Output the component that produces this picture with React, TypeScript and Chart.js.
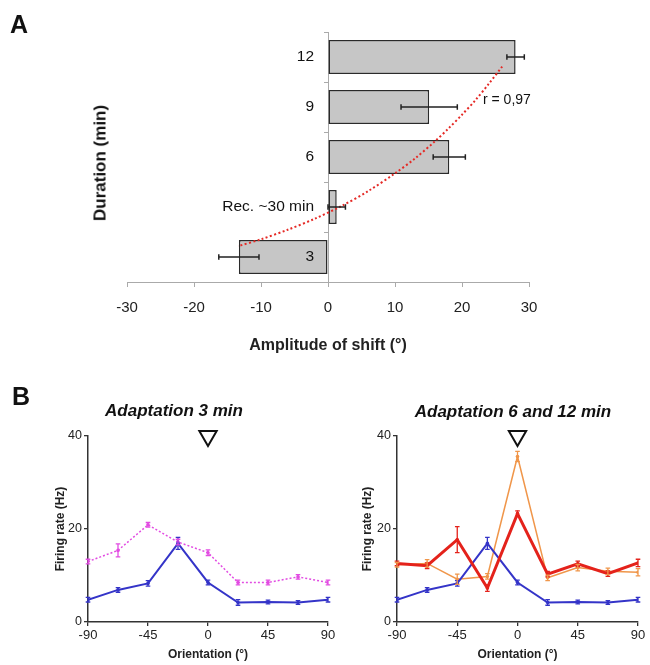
import { useEffect, useRef } from 'react';
import { Chart, registerables } from 'chart.js';

Chart.register(...registerables);

const FONT = 'Arial, "Liberation Sans", sans-serif';

// ---------- Panel A data ----------
const durationLabels = ['12', '9', '6', 'Rec. ~30 min', '3'];
const shiftValues = [28.0, 15.1, 18.1, 1.3, -13.3];
const shiftErrors = [1.3, 4.2, 2.4, 1.3, 3.0];
const shiftTicks = [-30, -20, -10, 0, 10, 20, 30];
// dotted red fit curve (shift, category position from top)
const fitShift = [26.0, 24.0, 22.0, 20.0, 18.0, 16.0, 13.0, 10.0, 6.0, 2.0, -2.0, -6.0, -10.0, -13.4];
const fitRank = [0.01, 0.39, 0.75, 1.07, 1.37, 1.65, 2.03, 2.36, 2.75, 3.08, 3.36, 3.6, 3.81, 3.96];

// ---------- Panel B data ----------
const orientations = [-90, -67.5, -45, -22.5, 0, 22.5, 45, 67.5, 90];
const orientationTicks = [-90, -45, 0, 45, 90];
const rateTicks = [0, 20, 40];
const controlRate = [4.8, 6.9, 8.3, 16.9, 8.5, 4.2, 4.3, 4.2, 4.8];
const controlErr = [0.5, 0.5, 0.6, 1.3, 0.5, 0.6, 0.4, 0.4, 0.5];
const adapt3Rate = [13.0, 15.4, 20.9, 17.2, 14.9, 8.5, 8.5, 9.7, 8.5];
const adapt3Err = [0.5, 1.4, 0.5, 0.6, 0.6, 0.5, 0.5, 0.5, 0.5];
const adaptRedRate = [12.6, 12.1, 17.7, 7.3, 23.3, 10.3, 12.5, 10.4, 12.7];
const adaptRedErr = [0.5, 0.6, 2.8, 0.7, 0.6, 0.6, 0.6, 0.6, 0.8];
const adaptOrangeRate = [12.3, 12.6, 9.2, 9.8, 35.6, 9.5, 11.7, 10.9, 10.7];
const adaptOrangeErr = [0.5, 0.8, 1.1, 0.6, 1.1, 0.6, 0.7, 0.7, 0.8];
const adaptedOrientation = [0];
const markerRate = [40];

const errorBarPlugin = {
  id: 'errorBars',
  afterDatasetsDraw(chart: any) {
    const ctx = chart.ctx;
    chart.data.datasets.forEach((ds: any, di: number) => {
      const errs: number[] | undefined = ds.errorBars;
      if (!errs) return;
      const meta = chart.getDatasetMeta(di);
      if (meta.hidden) return;
      const xs = chart.scales[meta.xAxisID];
      const ys = chart.scales[meta.yAxisID];
      const horizontal = !!ds.errorHorizontal;
      const cap = ds.errorCap ?? 2.5;
      ctx.save();
      ctx.strokeStyle = ds.errorColor || ds.borderColor;
      ctx.lineWidth = ds.errorWidth ?? 1.2;
      meta.data.forEach((el: any, i: number) => {
        const p = meta.controller.getParsed(i);
        const e = errs[i];
        ctx.beginPath();
        if (horizontal) {
          const a = xs.getPixelForValue(p.x - e);
          const b = xs.getPixelForValue(p.x + e);
          const y = el.y;
          ctx.moveTo(a, y); ctx.lineTo(b, y);
          ctx.moveTo(a, y - cap); ctx.lineTo(a, y + cap);
          ctx.moveTo(b, y - cap); ctx.lineTo(b, y + cap);
        } else {
          const a = ys.getPixelForValue(p.y - e);
          const b = ys.getPixelForValue(p.y + e);
          const x = el.x;
          ctx.moveTo(x, a); ctx.lineTo(x, b);
          ctx.moveTo(x - cap, a); ctx.lineTo(x + cap, a);
          ctx.moveTo(x - cap, b); ctx.lineTo(x + cap, b);
        }
        ctx.stroke();
      });
      ctx.restore();
    });
  },
};

function pts(vals: number[]) {
  return orientations.map((x, i) => ({ x, y: vals[i] }));
}

function lineDs(label: string, vals: number[], errs: number[], color: string, width: number, dash: number[] = [], order = 0) {
  return {
    type: 'line',
    label,
    data: pts(vals),
    borderColor: color,
    backgroundColor: color,
    borderWidth: width,
    borderDash: dash,
    pointRadius: 1.8,
    pointBorderWidth: 0,
    pointBackgroundColor: color,
    tension: 0,
    errorBars: errs,
    errorWidth: 1.3,
    errorCap: 2.3,
    order,
  };
}

function markerDs() {
  return {
    type: 'scatter',
    label: 'adapted orientation',
    data: adaptedOrientation.map((x, i) => ({ x, y: markerRate[i] })),
    pointStyle: 'triangle',
    rotation: 180,
    pointRadius: 10,
    borderColor: '#111',
    backgroundColor: 'rgba(0,0,0,0)',
    borderWidth: 2,
    clip: false,
    order: -1,
  };
}

function panelBOptions(yWidth: number, yTitlePad: number, rightPad: number) {
  return {
    responsive: false,
    maintainAspectRatio: false,
    animation: false,
    layout: { padding: { left: 0, right: rightPad, top: 56, bottom: 0 } },
    plugins: { legend: { display: false }, tooltip: { enabled: false } },
    scales: {
      x: {
        type: 'linear',
        min: -90,
        max: 90,
        afterBuildTicks: (s: any) => { s.ticks = orientationTicks.map((v) => ({ value: v })); },
        ticks: { font: { family: FONT, size: 13 }, color: '#222', padding: 2, maxRotation: 0 },
        grid: { display: true, drawOnChartArea: false, drawTicks: true, tickLength: 4, color: '#333', lineWidth: 1.3 },
        border: { display: true, color: '#333', width: 1.5 },
        title: { display: true, text: 'Orientation (°)', font: { family: FONT, size: 12, weight: 'bold' }, color: '#222', padding: { top: 0, bottom: 3 } },
        afterFit: (s: any) => { s.height = 43; },
      },
      y: {
        type: 'linear',
        min: 0,
        max: 40,
        afterBuildTicks: (s: any) => { s.ticks = rateTicks.map((v) => ({ value: v })); },
        ticks: { font: { family: FONT, size: 12.5 }, color: '#222', padding: 2 },
        grid: { display: true, drawOnChartArea: false, drawTicks: true, tickLength: 4, color: '#333', lineWidth: 1.3 },
        border: { display: true, color: '#333', width: 1.5 },
        title: { display: true, text: 'Firing rate (Hz)', font: { family: FONT, size: 12, weight: 'bold' }, color: '#222', padding: { top: yTitlePad, bottom: 0 } },
        afterFit: (s: any) => { s.width = yWidth; },
      },
    },
  };
}

export default function App() {
  const refA = useRef<HTMLCanvasElement>(null);
  const refB1 = useRef<HTMLCanvasElement>(null);
  const refB2 = useRef<HTMLCanvasElement>(null);

  useEffect(() => {
    const charts: Chart[] = [];

    charts.push(new Chart(refA.current as HTMLCanvasElement, {
      type: 'bar',
      data: {
        labels: durationLabels,
        datasets: [
          {
            type: 'bar',
            label: 'shift',
            data: shiftValues,
            xAxisID: 'x',
            yAxisID: 'y',
            backgroundColor: '#c6c6c6',
            borderColor: '#2a2a2a',
            borderWidth: 1.5,
            borderSkipped: false,
            grouped: false,
            barPercentage: 0.68,
            categoryPercentage: 1,
            errorBars: shiftErrors,
            errorHorizontal: true,
            errorColor: '#222',
            errorWidth: 1.5,
            errorCap: 2.8,
            order: 2,
          } as any,
          {
            type: 'line',
            label: 'fit',
            data: fitShift.map((x, i) => ({ x, y: fitRank[i] })),
            xAxisID: 'x',
            yAxisID: 'yFit',
            borderColor: '#e52a26',
            borderWidth: 2,
            borderDash: [2, 2.4],
            pointRadius: 0,
            tension: 0.3,
            order: 1,
          } as any,
        ],
      },
      options: {
        indexAxis: 'y',
        responsive: false,
        maintainAspectRatio: false,
        animation: false,
        layout: { padding: { left: 127, right: 121, top: 32, bottom: 0 } },
        plugins: { legend: { display: false }, tooltip: { enabled: false } },
        scales: {
          x: {
            type: 'linear',
            min: -30,
            max: 30,
            afterBuildTicks: (s: any) => { s.ticks = shiftTicks.map((v) => ({ value: v })); },
            ticks: { font: { family: FONT, size: 15 }, color: '#222', padding: 12, maxRotation: 0 },
            grid: { display: true, drawOnChartArea: false, drawTicks: true, tickLength: 5, color: '#aaa', lineWidth: 1 },
            border: { display: true, color: '#aaa', width: 1 },
            title: { display: true, text: 'Amplitude of shift (°)', font: { family: FONT, size: 16, weight: 'bold' }, color: '#222', padding: { top: 0, bottom: 5 } },
            afterFit: (s: any) => { s.height = 78; },
          },
          y: {
            type: 'category',
            position: { x: 0 },
            offset: true,
            grid: { display: true, drawOnChartArea: false, drawTicks: true, tickLength: 4, offset: true, color: '#aaa' },
            border: { display: true, color: '#aaa', width: 1 },
            ticks: {
              font: { family: FONT, size: 15.5 },
              color: '#111',
              padding: 13,
              z: 1,
              callback: (_v: any, i: number) => durationLabels[i] + '\u2002\u2009\u2009',
            },
          },
          yFit: {
            type: 'linear',
            axis: 'y',
            min: -0.5,
            max: 4.5,
            reverse: true,
            display: false,
          },
        },
      } as any,
      plugins: [errorBarPlugin],
    } as any));

    charts.push(new Chart(refB1.current as HTMLCanvasElement, {
      type: 'line',
      data: {
        datasets: [
          markerDs(),
          lineDs('Control', controlRate, controlErr, '#3434c8', 2, [], 0),
          lineDs('Adaptation 3 min', adapt3Rate, adapt3Err, '#e24ce2', 1.5, [2, 2], 1),
        ],
      },
      options: panelBOptions(88, 53, 7),
      plugins: [errorBarPlugin],
    } as any));

    charts.push(new Chart(refB2.current as HTMLCanvasElement, {
      type: 'line',
      data: {
        datasets: [
          markerDs(),
          lineDs('Adaptation (red)', adaptRedRate, adaptRedErr, '#e4221b', 3, [], 0),
          lineDs('Control', controlRate, controlErr, '#3434c8', 2, [], 1),
          lineDs('Adaptation (orange)', adaptOrangeRate, adaptOrangeErr, '#f0964a', 1.5, [], 2),
        ],
      },
      options: panelBOptions(67, 30, 8),
      plugins: [errorBarPlugin],
    } as any));

    return () => charts.forEach((c) => c.destroy());
  }, []);

  const abs = (o: any) => ({ position: 'absolute' as const, lineHeight: 1, whiteSpace: 'nowrap' as const, color: '#111', fontFamily: FONT, ...o });

  return (
    <div style={{ position: 'absolute', left: 0, top: 0, width: 650, height: 665, background: '#fff', overflow: 'hidden' }}>
      <canvas ref={refA} width={650} height={360} style={{ position: 'absolute', left: 0, top: 0, width: 650, height: 360 }} />
      <canvas ref={refB1} width={340} height={285} style={{ position: 'absolute', left: 0, top: 380, width: 340, height: 285 }} />
      <canvas ref={refB2} width={320} height={285} style={{ position: 'absolute', left: 330, top: 380, width: 320, height: 285 }} />

      <div style={abs({ left: 10, top: 12, fontSize: 25, fontWeight: 'bold' })}>A</div>
      <div style={abs({ left: 100, top: 163, fontSize: 17, fontWeight: 'bold', transform: 'translate(-50%, -50%) rotate(-90deg)' })}>Duration (min)</div>
      <div style={abs({ left: 483, top: 91.5, fontSize: 14 })}>r = 0,97</div>

      <div style={abs({ left: 12, top: 384, fontSize: 25, fontWeight: 'bold' })}>B</div>
      <div style={abs({ left: 174, top: 401.5, fontSize: 17, fontWeight: 'bold', fontStyle: 'italic', transform: 'translateX(-50%)' })}>Adaptation 3 min</div>
      <div style={abs({ left: 513, top: 402.5, fontSize: 17, fontWeight: 'bold', fontStyle: 'italic', transform: 'translateX(-50%)' })}>Adaptation 6 and 12 min</div>
    </div>
  );
}
